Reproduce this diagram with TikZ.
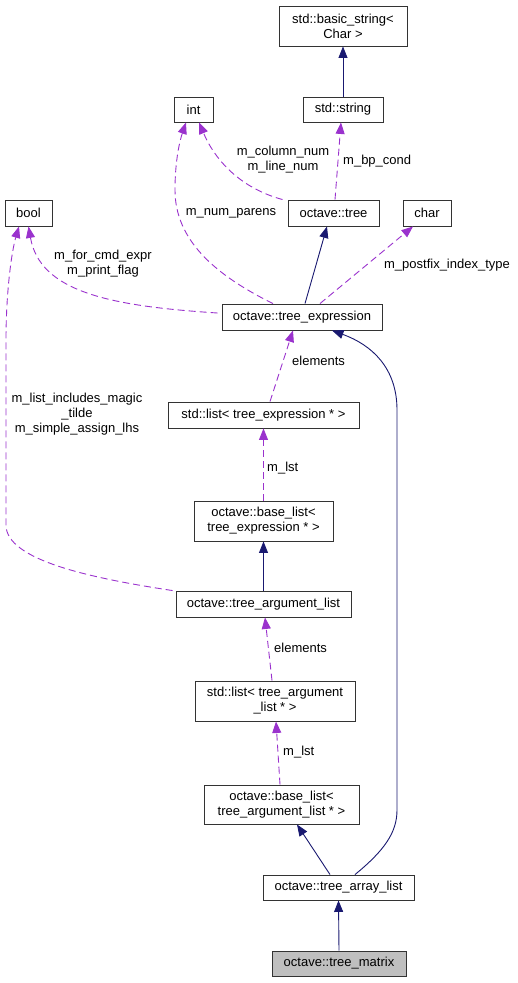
\documentclass[tikz,border=0pt]{standalone}
\usepackage{fontspec}
\setmainfont{Liberation Sans}
\usetikzlibrary{arrows.meta}

\definecolor{inhcol}{HTML}{191970}
\definecolor{usecol}{HTML}{9A32CD}
\definecolor{selcol}{HTML}{BFBFBF}

\tikzset{
	cls/.style={draw=black!80, fill=white, line width=0.9pt, inner sep=0pt, align=center, font=\fontsize{13}{15}\selectfont},
	lbl/.style={inner sep=0pt, align=center, font=\fontsize{13}{15}\selectfont},
	inh/.style={draw=inhcol, line width=0.9pt, -{Triangle[length=11.5pt,width=9pt]}, color=inhcol},
	uses/.style={draw=usecol, line width=0.9pt, dash pattern=on 7pt off 4pt, -{Triangle[length=11.5pt,width=9pt]}, color=usecol}
}

\begin{document}
\begin{tikzpicture}[x=1pt, y=-1pt]
	\useasboundingbox (0,0) rectangle (517,983);
	% classes
	\node [cls, minimum width=128pt, minimum height=40pt] (basicstr) at (343,26) {std::basic\_string\textless\\Char \textgreater};
	\node [cls, minimum width=39pt, minimum height=25pt] (int) at (193.5,109.5) {int};
	\node [cls, minimum width=80pt, minimum height=25pt] (stdstr) at (343,109.5) {std::string};
	\node [cls, minimum width=47pt, minimum height=26pt] (bool) at (28.5,213) {bool};
	\node [cls, minimum width=91pt, minimum height=26pt] (tree) at (333.5,213) {octave::tree};
	\node [cls, minimum width=48pt, minimum height=26pt] (char) at (427,213) {char};
	\node [cls, minimum width=160pt, minimum height=26pt] (expr) at (302,317) {octave::tree\_expression};
	\node [cls, minimum width=191pt, minimum height=26pt] (lstexpr) at (263.5,415) {std::list\textless{} tree\_expression * \textgreater};
	\node [cls, minimum width=139pt, minimum height=40pt] (baseexpr) at (263.5,521) {octave::base\_list\textless\\tree\_expression * \textgreater};
	\node [cls, minimum width=175pt, minimum height=26pt] (arglist) at (263.5,604) {octave::tree\_argument\_list};
	\node [cls, minimum width=160pt, minimum height=40pt] (lstarg) at (275,701) {std::list\textless{} tree\_argument\\\_list * \textgreater};
	\node [cls, minimum width=155pt, minimum height=39pt] (basearg) at (281.5,804.5) {octave::base\_list\textless\\tree\_argument\_list * \textgreater};
	\node [cls, minimum width=151pt, minimum height=25pt] (arraylist) at (338.5,887.5) {octave::tree\_array\_list};
	\node [cls, fill=selcol, minimum width=134pt, minimum height=25pt] (matrix) at (339,963.5) {octave::tree\_matrix};

	% inheritance
	\draw [inh] (stdstr.north) -- (basicstr.south);
	\draw [inh] ([xshift=3pt]expr.north) -- ([xshift=-6.5pt]tree.south);
	\draw [inh] (arglist.north) -- (baseexpr.south);
	\draw [inh] ([xshift=-8.5pt]arraylist.north) -- ([xshift=15.5pt]basearg.south);
	\draw [inh] ([xshift=16.5pt]arraylist.north) .. controls (385,850) and (397,832) .. (397,810) -- (397,410) .. controls (397,368) and (372,345) .. ([xshift=30pt]expr.south);
	\draw [inh] (matrix.north) -- (arraylist.south);

	% members
	\draw [uses] ([xshift=1.5pt]tree.north) -- ([xshift=-2pt]stdstr.south);
	\draw [uses] ([xshift=-5pt]tree.north west) .. controls (240,188) and (215,160) .. ([xshift=5.5pt]int.south);
	\draw [uses] ([xshift=-29pt]expr.north) .. controls (215,275) and (175,240) .. (175,190) .. controls (175,160) and (180,140) .. ([xshift=-7.5pt]int.south);
	\draw [uses] ([xshift=18pt]expr.north) -- ([xshift=-14pt]char.south);
	\draw [uses] ([xshift=-4pt,yshift=4pt]expr.west) .. controls (110,306) and (40,292) .. (bool.south);
	\draw [uses] ([xshift=-3pt]arglist.north west) .. controls (90,578) and (6,560) .. (6,525) -- (6,340) .. controls (6,290) and (12,250) .. ([xshift=-9.5pt]bool.south);
	\draw [uses] ([xshift=6.5pt]lstexpr.north) -- ([xshift=-9pt]expr.south);
	\draw [uses] (baseexpr.north) -- (lstexpr.south);
	\draw [uses] ([xshift=-3pt]lstarg.north) -- ([xshift=1.5pt]arglist.south);
	\draw [uses] ([xshift=-1.5pt]basearg.north) -- ([xshift=1pt]lstarg.south);

	% member names
	\node [lbl, anchor=west] (lbpcond) at (343,161) {m\_bp\_cond};
	\node [lbl] (lcolline) at (283,160) {m\_column\_num\\m\_line\_num};
	\node [lbl] (lparens) at (231,213) {m\_num\_parens};
	\node [lbl] (lforcmd) at (103,264) {m\_for\_cmd\_expr\\m\_print\_flag};
	\node [lbl] (lpostfix) at (447,265) {m\_postfix\_index\_type};
	\node [lbl] (lmagic) at (77,414) {m\_list\_includes\_magic\\\_tilde\\m\_simple\_assign\_lhs};
	\node [lbl, anchor=west] (lelemexpr) at (292,361) {elements};
	\node [lbl, anchor=west] (llstexpr) at (267,468) {m\_lst};
	\node [lbl, anchor=west] (lelemarg) at (274,648) {elements};
	\node [lbl, anchor=west] (llstarg) at (283,752) {m\_lst};
\end{tikzpicture}
\end{document}
